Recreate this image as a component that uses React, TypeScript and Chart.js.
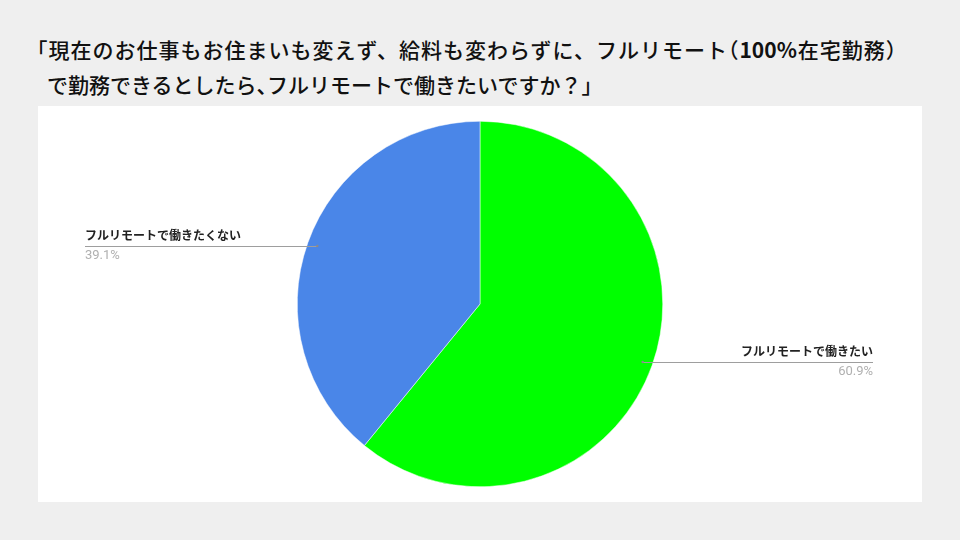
import React, { useEffect, useRef } from "react";
import { Chart, registerables } from "chart.js";

Chart.register(...registerables);

const titleLines = [
  "「現在のお仕事もお住まいも変えず、給料も変わらずに、フルリモート（100%在宅勤務）",
  "で勤務できるとしたら、フルリモートで働きたいですか？」",
];
const categories = ["フルリモートで働きたい", "フルリモートで働きたくない"];
const values = [60.9, 39.1];
const colors = ["#00ff00", "#4a86e8"];

const FONT = "'Noto Sans CJK JP', 'Noto Sans', Roboto, sans-serif";
const NARROW = "「」（）";

function renderTitle(t: string, narrowComma: boolean) {
  return Array.from(t).map((ch, k) => {
    if (NARROW.includes(ch) || (narrowComma && ch === "、")) {
      return (
        <span key={k} style={{ fontFeatureSettings: "'halt'" }}>{ch}</span>
      );
    }
    if (/[0-9%]/.test(ch)) {
      return (
        <span key={k} style={{ fontWeight: 700 }}>{ch}</span>
      );
    }
    return <React.Fragment key={k}>{ch}</React.Fragment>;
  });
}

const leaderPlugin = {
  id: "leaderLabels",
  afterDatasetsDraw(chart: any) {
    const ctx = chart.ctx;
    const meta = chart.getDatasetMeta(0);
    const W = chart.width;
    meta.data.forEach((arc: any, i: number) => {
      const mid = (arc.startAngle + arc.endAngle) / 2;
      const r = arc.outerRadius * 0.945;
      const px = arc.x + Math.cos(mid) * r;
      const py = arc.y + Math.sin(mid) * r;
      const right = Math.cos(mid) >= 0;
      const endX = right ? W - 49 : 47;
      ctx.save();
      ctx.strokeStyle = "#9e9e9e";
      ctx.lineWidth = 1;
      ctx.beginPath();
      ctx.moveTo(px, Math.round(py) + 0.5);
      ctx.lineTo(endX, Math.round(py) + 0.5);
      ctx.stroke();
      ctx.fillStyle = "#8a8a8a";
      ctx.beginPath();
      ctx.arc(px, py, 1.2, 0, Math.PI * 2);
      ctx.fill();
      ctx.textAlign = right ? "right" : "left";
      ctx.textBaseline = "alphabetic";
      ctx.fillStyle = "#222222";
      ctx.font = "bold 12px " + FONT;
      ctx.fillText(categories[i], endX, py - 6);
      ctx.fillStyle = "#b0b0b0";
      ctx.font = "13px Roboto, " + FONT;
      ctx.fillText(values[i].toFixed(1) + "%", endX, py + 13);
      ctx.restore();
    });
  },
};

export default function App() {
  const ref = useRef<HTMLCanvasElement>(null);
  useEffect(() => {
    document.body.style.margin = "0";
    const chart = new Chart(ref.current!, {
      type: "pie",
      data: {
        labels: categories,
        datasets: [
          {
            data: values,
            backgroundColor: colors,
            borderColor: "#ffffff",
            borderWidth: 0.5,
          },
        ],
      },
      options: {
        animation: false,
        responsive: false,
        layout: { padding: { top: 15, bottom: 15 } },
        plugins: {
          legend: { display: false },
          tooltip: { enabled: false },
        },
      },
      plugins: [leaderPlugin],
    });
    return () => chart.destroy();
  }, []);

  return (
    <div
      style={{
        position: "relative",
        width: 960,
        height: 540,
        background: "#efefef",
        overflow: "hidden",
        fontFamily: FONT,
      }}
    >
      <div
        style={{
          position: "absolute",
          left: 37,
          top: 32,
          fontSize: 21,
          fontWeight: 500,
          lineHeight: "35px",
          color: "#111111",
          whiteSpace: "nowrap",
        }}
      >
        <div
          style={{
            width: 859,
            textAlign: "justify",
            textAlignLast: "justify",
            whiteSpace: "normal",
          } as any}
        >
          {renderTitle(titleLines[0], false)}
        </div>
        <div style={{ marginLeft: 10 }}>{renderTitle(titleLines[1], true)}</div>
      </div>
      <div
        style={{
          position: "absolute",
          left: 38,
          top: 106,
          width: 884,
          height: 396,
          background: "#ffffff",
        }}
      >
        <canvas ref={ref} width={884} height={396} style={{ display: "block" }} />
      </div>
    </div>
  );
}
